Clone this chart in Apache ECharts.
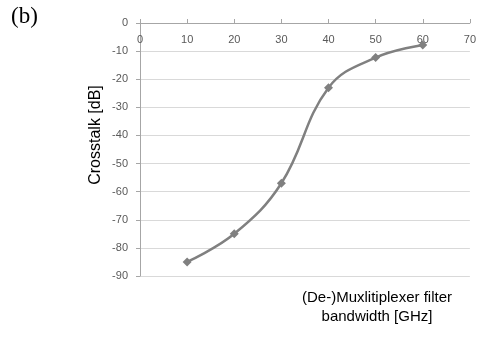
<!DOCTYPE html>
<html>
<head>
<meta charset="utf-8">
<script src="https://cdn.jsdelivr.net/npm/echarts@6/dist/echarts.min.js"></script>
<style>
    html, body { margin: 0; padding: 0; background: #fff; }
    #chart { width: 479px; height: 338px; }
</style>
</head>
<body>
<div id="chart"></div>
<script>
// bandwidth in GHz and measured crosstalk in dB
const bandwidth = [10, 20, 30, 40, 50, 60]
const crosstalk = [-85, -75, -57, -23, -12.3, -7.8]

const myChart = echarts.init(document.getElementById('chart'))
const font = '"Liberation Sans", Arial, sans-serif'

let option = {
    animation: false,
    grid: {
        left: 140,
        right: 9,
        top: 23,
        bottom: 62
    },
    xAxis: {
        type: 'value',
        position: 'top',
        min: 0,
        max: 70,
        interval: 10,
        axisLine: {
            onZero: false,
            lineStyle: { color: '#a6a6a6', width: 1 }
        },
        axisTick: {
            show: true,
            inside: false,
            length: 4,
            lineStyle: { color: '#a6a6a6' }
        },
        axisLabel: {
            inside: true,
            margin: 11,
            color: '#595959',
            fontFamily: font,
            fontSize: 11
        },
        splitLine: { show: false }
    },
    yAxis: {
        type: 'value',
        min: -90,
        max: 0,
        interval: 10,
        axisLine: {
            show: true,
            lineStyle: { color: '#a6a6a6', width: 1 }
        },
        axisTick: {
            show: true,
            length: 4,
            lineStyle: { color: '#a6a6a6' }
        },
        axisLabel: {
            margin: 12,
            color: '#595959',
            fontFamily: font,
            fontSize: 11
        },
        splitLine: {
            show: true,
            lineStyle: { color: '#d9d9d9', width: 1 }
        }
    },
    graphic: [
        {
            type: 'text',
            left: 11,
            top: 5,
            style: {
                text: '(b)',
                font: '23px "Liberation Serif", "Times New Roman", serif',
                fill: '#000'
            }
        },
        {
            type: 'text',
            x: 96,
            y: 135,
            rotation: Math.PI / 2,
            style: {
                text: 'Crosstalk [dB]',
                font: '16px ' + font,
                fill: '#000',
                align: 'center',
                verticalAlign: 'middle'
            }
        },
        {
            type: 'text',
            x: 377,
            y: 307,
            style: {
                text: '(De-)Muxlitiplexer filter\nbandwidth [GHz]',
                font: '15px ' + font,
                fill: '#000',
                align: 'center',
                verticalAlign: 'middle',
                lineHeight: 19
            }
        }
    ],
    series: [{
        type: 'line',
        smooth: 0.4,
        symbol: 'diamond',
        symbolSize: 9,
        lineStyle: { color: '#808080', width: 2.5 },
        itemStyle: { color: '#808080' },
        data: bandwidth.map((v, i) => [v, crosstalk[i]])
    }]
}
myChart.setOption(option)
</script>
</body>
</html>
